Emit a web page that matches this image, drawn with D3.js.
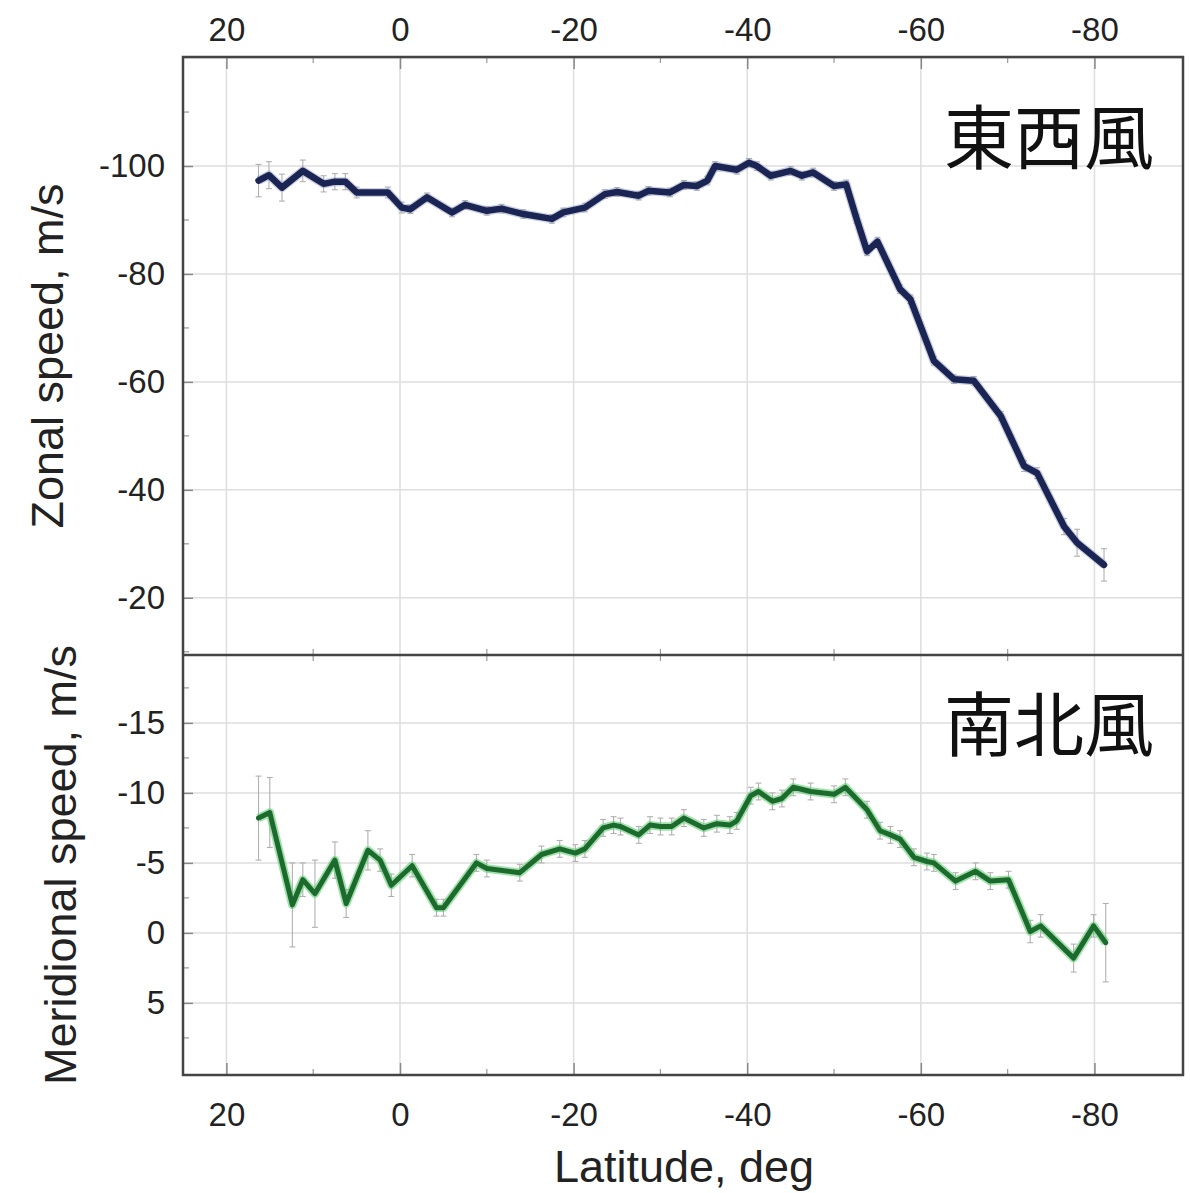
<!DOCTYPE html>
<html>
<head>
<meta charset="utf-8">
<script src="https://cdn.jsdelivr.net/npm/d3@7"></script>
<style>
  body { margin: 0; background: #fff; }
  svg { display: block; }
</style>
</head>
<body>
<div id="chart"></div>
<script>
// zonal wind (top panel)
const zonalLat = [16.3, 15.1, 13.6, 11.2, 8.8, 7.5, 6.3, 5.0, 1.4, -0.2, -1.2, -3.1, -6.0, -7.5, -10.0, -11.7, -14.2, -17.5, -18.8, -21.3,
  -23.6, -25.0, -27.5, -28.6, -31.1, -32.7, -34.2, -35.4, -36.3, -38.8, -40.2, -41.1, -42.7, -45.0, -46.3, -47.6, -50.0, -51.4,
  -52.6, -53.8, -55.0, -57.6, -58.8, -61.5, -63.8, -66.1, -69.2, -71.9, -73.4, -76.5, -78.0, -81.1];
const zonalSpeed = [-97.3, -98.3, -96.0, -99.1, -96.7, -97.1, -97.1, -95.1, -95.1, -92.3, -92.0, -94.2, -91.4, -92.8, -91.7, -92.1, -91.1, -90.2, -91.4, -92.3,
  -94.8, -95.2, -94.5, -95.4, -95.1, -96.5, -96.3, -97.3, -100.0, -99.3, -100.6, -100.0, -98.2, -99.1, -98.2, -98.8, -96.3, -96.6,
  -90.2, -84.2, -86.0, -77.2, -75.3, -63.9, -60.5, -60.2, -53.7, -44.4, -43.1, -33.2, -30.2, -26.1];
const zonalErr = [3.0, 2.5, 2.5, 2.0, 1.5, 1.5, 1.5, 1.0, 1.0, 1.0, 0.8, 0.8, 0.8, 0.8, 0.8, 0.8, 0.8, 0.8, 0.8, 0.8,
  0.8, 0.8, 0.8, 0.8, 0.8, 0.8, 0.8, 0.8, 0.8, 0.8, 0.8, 0.8, 0.8, 0.8, 0.8, 0.8, 0.8, 0.8,
  0.8, 0.8, 0.8, 0.8, 0.8, 0.8, 0.8, 0.8, 0.8, 1.0, 1.0, 1.5, 2.5, 3.0];

// meridional wind (bottom panel)
const meridLat = [16.3, 15.0, 12.4, 11.2, 9.8, 7.5, 6.2, 3.7, 2.3, 1.0, -1.4, -4.2, -5.0, -8.8, -10.0, -13.8, -16.3, -18.4, -20.2, -21.3,
  -23.4, -24.6, -25.4, -27.5, -28.8, -30.0, -31.3, -32.7, -35.0, -36.5, -38.0, -38.8, -40.4, -41.3, -42.9, -44.0, -45.3, -47.3,
  -50.0, -51.3, -53.8, -55.3, -56.5, -57.6, -59.2, -60.7, -61.5, -64.0, -66.3, -68.0, -70.1, -72.6, -73.8, -77.6, -79.9, -81.3];
const meridSpeed = [-8.2, -8.6, -2.0, -3.8, -2.8, -5.2, -2.1, -5.9, -5.2, -3.4, -4.8, -1.8, -1.8, -5.0, -4.6, -4.3, -5.6, -6.0, -5.7, -6.0,
  -7.5, -7.7, -7.6, -7.0, -7.7, -7.6, -7.6, -8.2, -7.5, -7.8, -7.7, -8.0, -9.8, -10.1, -9.4, -9.6, -10.4, -10.1,
  -9.9, -10.4, -8.8, -7.3, -7.0, -6.7, -5.4, -5.1, -5.0, -3.7, -4.4, -3.7, -3.8, -0.1, -0.5, 1.8, -0.5, 0.7];
const meridErr = [3.0, 2.5, 3.0, 1.2, 2.4, 1.3, 1.0, 1.4, 0.8, 0.8, 0.8, 0.6, 0.6, 0.6, 0.6, 0.6, 0.6, 0.6, 0.6, 0.6,
  0.6, 0.6, 0.6, 0.6, 0.6, 0.6, 0.6, 0.6, 0.6, 0.6, 0.6, 0.6, 0.6, 0.6, 0.6, 0.6, 0.6, 0.6,
  0.6, 0.6, 0.6, 0.6, 0.6, 0.6, 0.6, 0.6, 0.6, 0.6, 0.6, 0.6, 0.6, 0.8, 0.8, 1.0, 0.8, 2.8];

const latTicks = [20, 0, -20, -40, -60, -80];
const latMinor = [10, -10, -30, -50, -70, -90];
const zonalTicks = [-100, -80, -60, -40, -20];
const zonalMinor = [-110, -90, -70, -50, -30, -10];
const meridTicks = [-15, -10, -5, 0, 5];
const meridMinor = [-17.5, -12.5, -7.5, -2.5, 2.5, 7.5];

const W = 1190, H = 1193;
const plotL = 183, plotR = 1183, plotT = 57, plotMid = 655, plotB = 1075;
const axisColor = '#444';
const gridColor = '#dedede';
const tickFont = 'Liberation Sans, Arial, sans-serif';
const fmt = d => String(d); // plain hyphen minus, like the original

const svg = d3.select('#chart').append('svg')
  .attr('width', W)
  .attr('height', H);

const x = d3.scaleLinear().domain([25, -90.2]).range([plotL, plotR]);
const yTop = d3.scaleLinear().domain([-120.2, -9.4]).range([plotT, plotMid]);
const yBot = d3.scaleLinear().domain([-19.85, 10.15]).range([plotMid, plotB]);

// grid
svg.append('g')
  .selectAll('line')
  .data(latTicks)
  .join('line')
  .attr('x1', d => x(d)).attr('x2', d => x(d))
  .attr('y1', plotT).attr('y2', plotB)
  .attr('stroke', gridColor).attr('stroke-width', 1.5);

[[yTop, zonalTicks.concat([-120])], [yBot, meridTicks]].forEach(([y, ticks]) => {
  svg.append('g')
    .selectAll('line')
    .data(ticks)
    .join('line')
    .attr('x1', plotL).attr('x2', plotR)
    .attr('y1', d => y(d)).attr('y2', d => y(d))
    .attr('stroke', gridColor).attr('stroke-width', 1.5);
});

// axes (tick marks point inward, labels drawn by d3 axes)
function styleAxis(g, size) {
  g.select('.domain').remove();
  g.selectAll('.tick line').attr('stroke', '#888').attr('stroke-width', 1.5);
  g.selectAll('.tick text')
    .attr('fill', '#222')
    .style('font-family', tickFont)
    .style('font-size', size + 'px');
}

svg.append('g')
  .attr('transform', `translate(0,${plotT})`)
  .call(d3.axisTop(x).tickValues(latTicks).tickSize(-12).tickPadding(16).tickFormat(fmt))
  .call(g => styleAxis(g, 33));

svg.append('g')
  .attr('transform', `translate(0,${plotB})`)
  .call(d3.axisBottom(x).tickValues(latTicks).tickSize(-12).tickPadding(28).tickFormat(fmt))
  .call(g => styleAxis(g, 33));

// minor ticks on x
[[plotT, 1], [plotB, -1], [plotMid, 1], [plotMid, -1]].forEach(([yy, dir]) => {
  svg.append('g')
    .selectAll('line')
    .data(latMinor.filter(d => x(d) < plotR - 2))
    .join('line')
    .attr('x1', d => x(d)).attr('x2', d => x(d))
    .attr('y1', yy).attr('y2', yy + dir * 6)
    .attr('stroke', '#999').attr('stroke-width', 1.2);
});

svg.append('g')
  .attr('transform', `translate(${plotL},0)`)
  .call(d3.axisLeft(yTop).tickValues(zonalTicks).tickSize(-10).tickPadding(18).tickFormat(fmt))
  .call(g => styleAxis(g, 33));

svg.append('g')
  .attr('transform', `translate(${plotL},0)`)
  .call(d3.axisLeft(yBot).tickValues(meridTicks).tickSize(-10).tickPadding(18).tickFormat(fmt))
  .call(g => styleAxis(g, 33));

// minor ticks on y
[[yTop, zonalMinor], [yBot, meridMinor]].forEach(([y, ticks]) => {
  svg.append('g')
    .selectAll('line')
    .data(ticks.filter(d => y(d) > y.range()[0] + 2 && y(d) < y.range()[1] - 2))
    .join('line')
    .attr('x1', plotL).attr('x2', plotL + 6)
    .attr('y1', d => y(d)).attr('y2', d => y(d))
    .attr('stroke', '#999').attr('stroke-width', 1.2);
});

// frame
svg.append('rect')
  .attr('x', plotL).attr('y', plotT)
  .attr('width', plotR - plotL).attr('height', plotB - plotT)
  .attr('fill', 'none').attr('stroke', axisColor).attr('stroke-width', 2.5);

svg.append('line')
  .attr('x1', plotL).attr('x2', plotR)
  .attr('y1', plotMid).attr('y2', plotMid)
  .attr('stroke', axisColor).attr('stroke-width', 2.5);

// error bars
function errorBars(lats, vals, errs, y) {
  const data = lats.map((d, i) => ({ lat: d, v: vals[i], e: errs[i] }));
  const g = svg.append('g').attr('stroke', '#b0b0b0').attr('stroke-width', 1.1);
  g.selectAll('.eb')
    .data(data)
    .join('line')
    .attr('x1', d => x(d.lat)).attr('x2', d => x(d.lat))
    .attr('y1', d => y(d.v - d.e)).attr('y2', d => y(d.v + d.e));
  [-1, 1].forEach(s => {
    g.append('g')
      .selectAll('line')
      .data(data)
      .join('line')
      .attr('x1', d => x(d.lat) - 3).attr('x2', d => x(d.lat) + 3)
      .attr('y1', d => y(d.v + s * d.e))
      .attr('y2', d => y(d.v + s * d.e));
  });
}

errorBars(zonalLat, zonalSpeed, zonalErr, yTop);
errorBars(meridLat, meridSpeed, meridErr, yBot);

// lines
const zonalLine = d3.line()
  .x((d, i) => x(zonalLat[i]))
  .y(d => yTop(d));

svg.append('path')
  .datum(zonalSpeed)
  .attr('d', zonalLine)
  .attr('fill', 'none')
  .attr('stroke', '#8a95c0')
  .attr('stroke-opacity', 0.45)
  .attr('stroke-width', 9)
  .attr('stroke-linejoin', 'round');

svg.append('path')
  .datum(zonalSpeed)
  .attr('d', zonalLine)
  .attr('fill', 'none')
  .attr('stroke', '#1b2553')
  .attr('stroke-width', 6.5)
  .attr('stroke-linejoin', 'round')
  .attr('stroke-linecap', 'round');

const meridLine = d3.line()
  .x((d, i) => x(meridLat[i]))
  .y(d => yBot(d));

svg.append('path')
  .datum(meridSpeed)
  .attr('d', meridLine)
  .attr('fill', 'none')
  .attr('stroke', '#5fcf6e')
  .attr('stroke-opacity', 0.6)
  .attr('stroke-width', 8.5)
  .attr('stroke-linejoin', 'round');

svg.append('path')
  .datum(meridSpeed)
  .attr('d', meridLine)
  .attr('fill', 'none')
  .attr('stroke', '#1d6a2f')
  .attr('stroke-width', 5)
  .attr('stroke-linejoin', 'round')
  .attr('stroke-linecap', 'round');

// panel labels
const cjkFont = '"Noto Sans CJK JP", "Noto Sans CJK SC", sans-serif';
[['東西風', 133], ['南北風', 720]].forEach(([t, yy]) => {
  svg.append('text')
    .attr('x', 1154).attr('y', yy)
    .attr('text-anchor', 'end')
    .attr('dominant-baseline', 'central')
    .style('font-family', cjkFont)
    .style('font-size', '70px')
    .attr('fill', '#111')
    .text(t);
});

// axis titles
svg.append('text')
  .attr('transform', `translate(47,356) rotate(-90)`)
  .attr('text-anchor', 'middle')
  .attr('dominant-baseline', 'central')
  .style('font-family', tickFont)
  .style('font-size', '45px')
  .attr('fill', '#222')
  .text('Zonal speed, m/s');

svg.append('text')
  .attr('transform', `translate(60,865) rotate(-90)`)
  .attr('text-anchor', 'middle')
  .attr('dominant-baseline', 'central')
  .style('font-family', tickFont)
  .style('font-size', '45px')
  .attr('fill', '#222')
  .text('Meridional speed, m/s');

svg.append('text')
  .attr('x', 684).attr('y', 1166)
  .attr('text-anchor', 'middle')
  .attr('dominant-baseline', 'central')
  .style('font-family', tickFont)
  .style('font-size', '45px')
  .attr('fill', '#222')
  .text('Latitude, deg');
</script>
</body>
</html>
